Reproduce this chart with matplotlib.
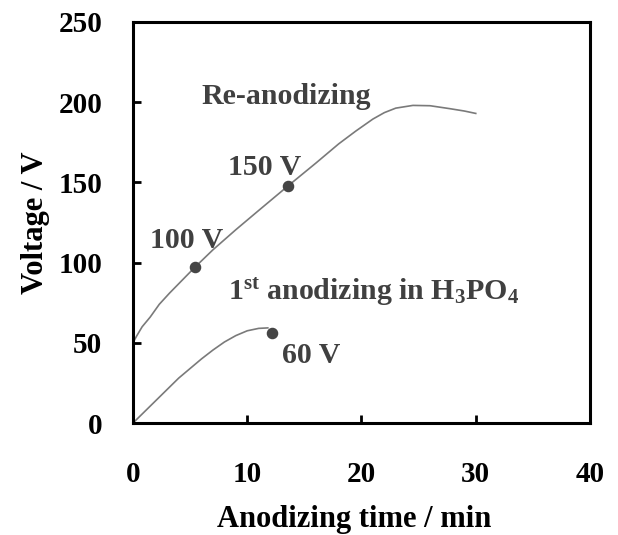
import matplotlib
matplotlib.use("Agg")
import matplotlib.pyplot as plt
import numpy as np

# Re-anodizing curve (time min, voltage V)
re_t = [0, 0.3, 0.8, 1.5, 2.3, 3.2, 4.3, 5.4, 7.0, 9.0, 11.0, 13.6, 16.0, 18.0, 19.5, 21.0, 22.0, 23.0, 24.5, 26.0, 27.7, 29.0, 30.0]
re_v = [50, 54, 60, 66, 74, 81, 89, 97, 108, 120.5, 132.5, 148, 162, 174, 182, 189.5, 193.5, 196.3, 198, 197.8, 196, 194.5, 193]
# 1st anodizing curve
first_t = [0, 1, 2, 3, 4, 5, 6, 7, 8, 9, 10, 11, 11.8]
first_v = [0, 7, 14, 21, 28, 34, 40, 45.5, 50.5, 54.5, 57.5, 59, 59.3]
# marked points
mark_t = [5.4, 13.6, 12.2]
mark_v = [97, 148, 56]

x_ticks = [0, 10, 20, 30, 40]
y_ticks = [0, 50, 100, 150, 200, 250]

plt.rcParams['font.family'] = ['Liberation Serif', 'DejaVu Serif']
plt.rcParams['font.weight'] = 'bold'
plt.rcParams['mathtext.fontset'] = 'custom'
plt.rcParams['mathtext.rm'] = 'Liberation Serif:bold'
plt.rcParams['mathtext.bf'] = 'Liberation Serif:bold'
plt.rcParams['mathtext.it'] = 'Liberation Serif:bold'

fig = plt.figure(figsize=(6.18, 5.35), dpi=100)
ax = fig.add_axes([0.2152, 0.2093, 0.7395, 0.7496])

ax.plot(re_t, re_v, color='#7a7a7a', lw=1.2, solid_joinstyle='round')
ax.plot(first_t, first_v, color='#7a7a7a', lw=1.2, solid_joinstyle='round')
ax.plot(mark_t, mark_v, 'o', color='#454545', ms=7.3, ls='none')

ax.set_xlim(0, 40)
ax.set_ylim(0, 250)
ax.set_xticks(x_ticks)
ax.set_yticks(y_ticks)
ax.tick_params(direction='in', length=6, width=2, labelsize=21)
ax.tick_params(axis='x', pad=27)
ax.tick_params(axis='y', pad=22)
for s in ax.spines.values():
    s.set_linewidth(2.2)

ax.set_xlabel('Anodizing time / min', fontsize=22, fontweight='bold', labelpad=12)
ax.xaxis.set_label_coords(0.484, -0.205)
ax.set_ylabel('Voltage / V', fontsize=22, fontweight='bold', labelpad=6)

tc = '#404040'
fs = 21.5
ax.text(6.0, 198.9, 'Re-anodizing', color=tc, fontsize=fs, fontweight='bold', va='baseline')
ax.text(8.3, 154.6, '150 V', color=tc, fontsize=fs, fontweight='bold', va='baseline')
ax.text(1.5, 109.1, '100 V', color=tc, fontsize=fs, fontweight='bold', va='baseline')
ax.text(8.3, 76.7, r'1$^{\rm st}$ anodizing in H$_3$PO$_4$', color=tc, fontsize=fs,
        fontweight='bold', va='baseline')
ax.text(13.0, 37.4, '60 V', color=tc, fontsize=fs, fontweight='bold', va='baseline')

fig.savefig('out.png', dpi=100)
